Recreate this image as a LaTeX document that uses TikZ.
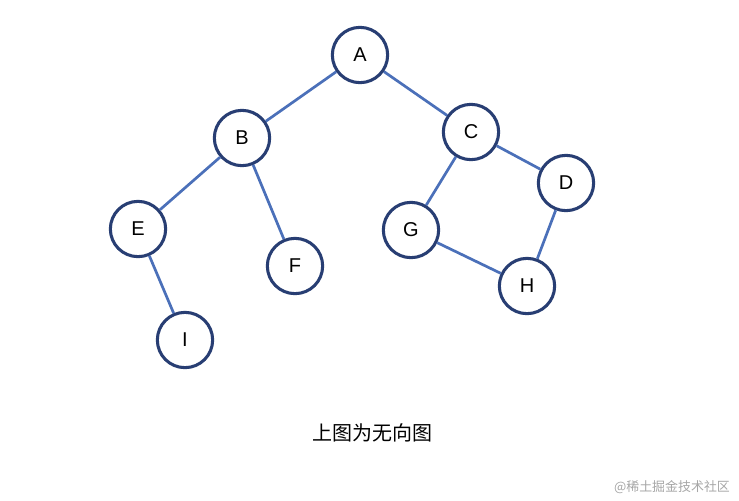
\documentclass[tikz,border=0pt]{standalone}
\usepackage{fontspec}
\setmainfont{Liberation Sans}
\newfontfamily\cjk{Noto Sans CJK SC}
\usetikzlibrary{positioning}
\definecolor{ringblue}{RGB}{40,62,115}
\definecolor{edgeblue}{RGB}{75,112,185}
\tikzstyle{vertex} =
[
	draw=ringblue,circle,line width=2.6pt,fill=white,
	minimum size=47pt,inner sep=0pt,font=\fontsize{17}{20}\selectfont
]
\begin{document}
\begin{tikzpicture}[x=0.85pt,y=-0.85pt,line width=2.3pt]

\useasboundingbox (0,0) rectangle (739,500);

\node[vertex] (A) at (360,55)  {A};
\node[vertex] (B) at (242,138) {B};
\node[vertex] (C) at (471,132) {C};
\node[vertex] (D) at (566,183) {D};
\node[vertex] (E) at (138,229) {E};
\node[vertex] (F) at (295,266) {F};
\node[vertex] (G) at (411,230) {G};
\node[vertex] (H) at (527,286) {H};
\node[vertex] (I) at (185,340) {I};

\path[draw=edgeblue]
	(A) -- (B)
	(A) -- (C)
	(B) -- (E)
	(B) -- (F)
	(E) -- (I)
	(C) -- (G)
	(C) -- (D)
	(D) -- (H)
	(G) -- (H);

\node (caption) at (372,433) {\cjk\fontsize{17}{20}\selectfont 上图为无向图};
\node[text=gray!70] (mark) at (672,487) {\cjk\fontsize{11}{13}\selectfont @稀土掘金技术社区};

\end{tikzpicture}
\end{document}
